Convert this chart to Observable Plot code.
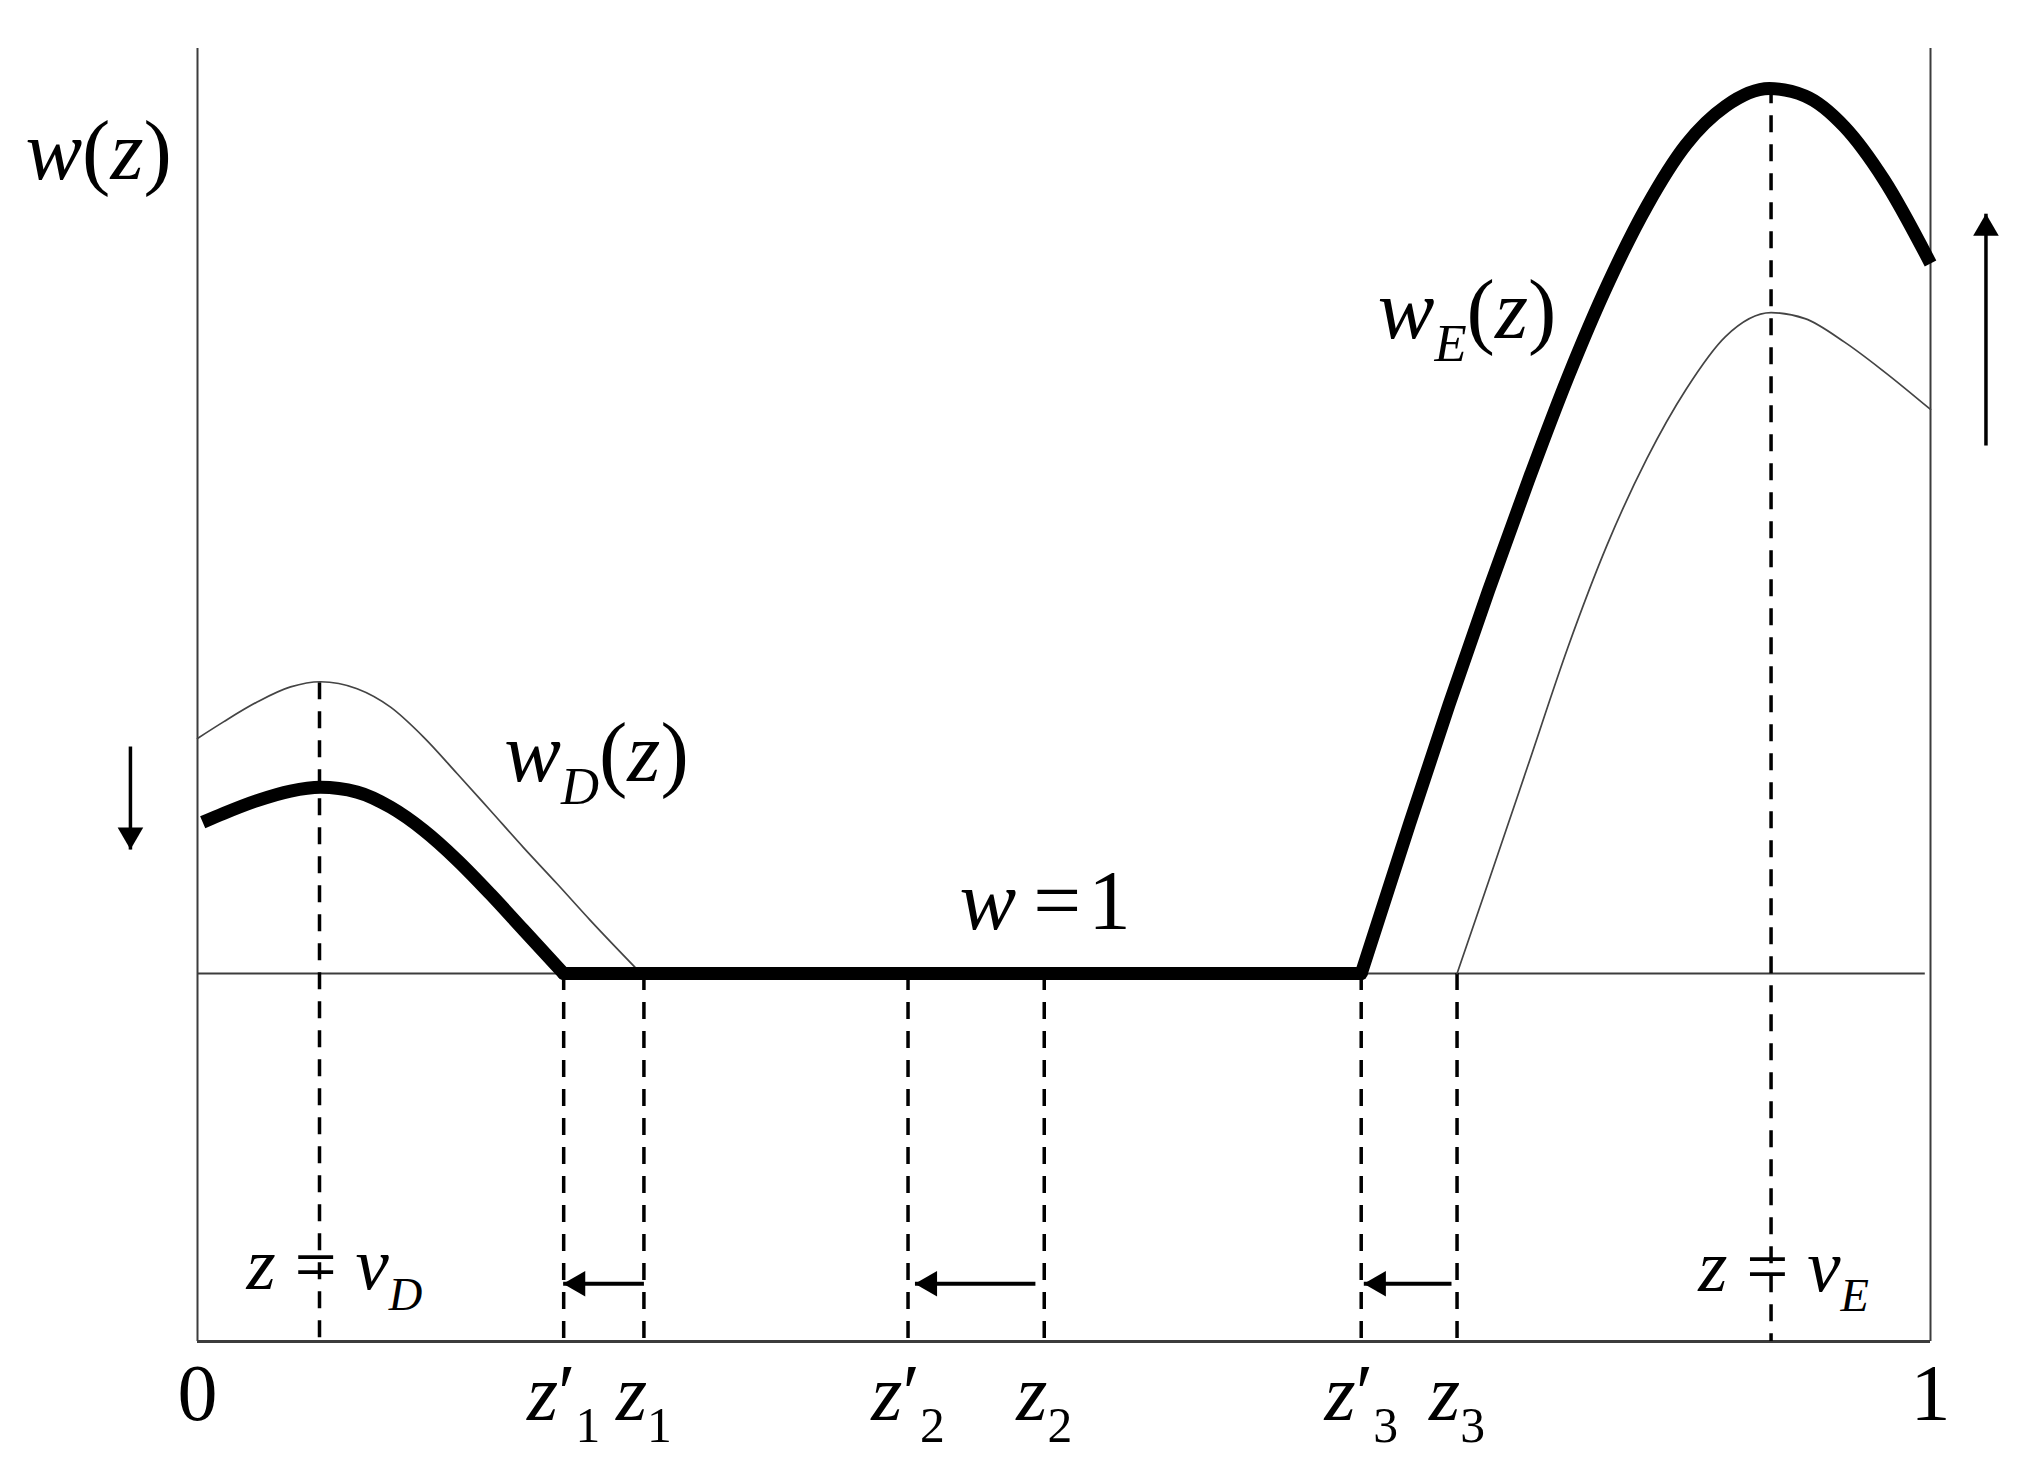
<!DOCTYPE html>
<html>
<head>
<meta charset="utf-8">
<script src="https://cdn.jsdelivr.net/npm/d3@7"></script>
<script src="https://cdn.jsdelivr.net/npm/@observablehq/plot@0.6"></script>
<style>
  html, body { margin: 0; padding: 0; background: #fff; }
  svg { display: block; }
  svg text { white-space: pre; }
</style>
</head>
<body>
<div id="chart"></div>
<script>
// ---- curves ----
const thinDx = [0, 0.015, 0.0344, 0.0537, 0.071, 0.0921, 0.1114, 0.1306, 0.1499, 0.169, 0.188, 0.2075, 0.2268, 0.256];
const thinDy = [1.639, 1.684, 1.738, 1.779, 1.793, 1.774, 1.724, 1.642, 1.543, 1.443, 1.343, 1.244, 1.144, 1.0];

const thickDx = [0.003, 0.015, 0.0344, 0.0537, 0.071, 0.0921, 0.1114, 0.1306, 0.1499, 0.169, 0.188, 0.2113];
const thickDy = [1.411, 1.435, 1.470, 1.496, 1.506, 1.493, 1.452, 1.389, 1.308, 1.216, 1.119, 1.0];

const flatX = [0.2113, 0.6715];
const flatY = [1, 1];

const thickEx = [0.6715, 0.6994, 0.7222, 0.745, 0.7679, 0.7908, 0.8134, 0.8364, 0.859, 0.8817, 0.907, 0.9276, 0.9504, 0.9732, 1.0];
const thickEy = [1.0, 1.407, 1.731, 2.041, 2.339, 2.621, 2.870, 3.086, 3.253, 3.357, 3.405, 3.385, 3.301, 3.157, 2.930];

const thinEx = [0.7268, 0.745, 0.7679, 0.7908, 0.8134, 0.8364, 0.859, 0.8817, 0.908, 0.9276, 0.9504, 0.9732, 1.0];
const thinEy = [1.0, 1.250, 1.568, 1.887, 2.165, 2.400, 2.588, 2.731, 2.796, 2.780, 2.716, 2.636, 2.533];

// ---- dashed verticals ----
const dashX   = [0.0704, 0.2113, 0.2576, 0.410, 0.4886, 0.6715, 0.7268, 0.908];
const dashTop = [1.79, 1, 1, 1, 1, 1, 1, 3.41];

// ---- tick labels ----
const tickValues = [0, 0.2113, 0.2576, 0.410, 0.4886, 0.6715, 0.7268, 1];
const tickLabels = ["0", "z'_1", "z_1", "z'_2", "z_2", "z'_3", "z_3", "1"];

// ---- shift arrows (left) ----
const shiftFrom = [0.2576, 0.4835, 0.7236];
const shiftTo   = [0.211, 0.414, 0.673];
const shiftY    = [0.157, 0.157, 0.157];

// ---- vertical arrows ----
const downArrowX = [-0.0387], downArrowFrom = [1.617], downArrowTo = [1.337];
const upArrowX = [1.032], upArrowFrom = [2.435], upArrowTo = [3.065];

// ---- labels ----
const bigLabelText = ["w(z)", "w_D(z)", "w_E(z)", "w\u2009=\u200a1"];
const bigLabelX    = [-0.0993, 0.177, 0.681, 0.4397];
const bigLabelY    = [3.160, 1.524, 2.728, 1.122];
const eqLabelText  = ["z = v_D", "z = v_E"];
const eqLabelX     = [0.0283, 0.866];
const eqLabelY     = [0.142, 0.138];

// ---- build tables ----
const pts = (xs, ys) => xs.map((x, i) => ({x, y: ys[i]}));
const thinD = pts(thinDx, thinDy);
const thickD = pts(thickDx, thickDy);
const flat = pts(flatX, flatY);
const thickE = pts(thickEx, thickEy);
const thinE = pts(thinEx, thinEy);
const dashes = dashX.map((x, i) => ({x, top: dashTop[i]}));
const shifts = shiftFrom.map((x1, i) => ({x1, x2: shiftTo[i], y: shiftY[i]}));
const downs = downArrowX.map((x, i) => ({x, y1: downArrowFrom[i], y2: downArrowTo[i]}));
const ups = upArrowX.map((x, i) => ({x, y1: upArrowFrom[i], y2: upArrowTo[i]}));
const bigLabels = bigLabelText.map((t, i) => ({t, x: bigLabelX[i], y: bigLabelY[i]}));
const eqLabels = eqLabelText.map((t, i) => ({t, x: eqLabelX[i], y: eqLabelY[i]}));
const tickMap = new Map(tickValues.map((v, i) => [v, tickLabels[i]]));

const axisColor = "#3c3c3c";
const thinColor = "#444";
const thickW = 13;
const headR = 9.5, headOff = 14.7;

const chart = Plot.plot({
  width: 2033,
  height: 1476,
  marginLeft: 197,
  marginRight: 103,
  marginTop: 48,
  marginBottom: 135,
  x: {domain: [0, 1]},
  y: {domain: [0, 3.514], axis: null},
  style: {fontFamily: "'Liberation Serif', 'Times New Roman', serif", background: "#fff", color: "#000"},
  marks: [
    Plot.ruleX([0, 1], {stroke: axisColor, strokeWidth: 2}),
    Plot.ruleY([0], {stroke: axisColor, strokeWidth: 3}),
    Plot.ruleY([1], {x1: 0, x2: 0.997, stroke: axisColor, strokeWidth: 2}),
    Plot.ruleX(dashes, {x: "x", y1: "top", y2: 0, stroke: "#000", strokeWidth: 3.5, strokeDasharray: "17,12"}),
    Plot.line(thinD, {x: "x", y: "y", curve: "monotone-x", stroke: thinColor, strokeWidth: 1.7}),
    Plot.line(thinE, {x: "x", y: "y", curve: "monotone-x", stroke: thinColor, strokeWidth: 1.7}),
    Plot.line(thickD, {x: "x", y: "y", curve: "monotone-x", stroke: "#000", strokeWidth: thickW, strokeLinecap: "butt"}),
    Plot.line(thickE, {x: "x", y: "y", curve: "monotone-x", stroke: "#000", strokeWidth: thickW, strokeLinecap: "butt"}),
    Plot.line(flat, {x: "x", y: "y", stroke: "#000", strokeWidth: thickW, strokeLinecap: "round"}),
    // shift arrows
    Plot.link(shifts, {x1: "x1", x2: "x2", y1: "y", y2: "y", stroke: "#000", strokeWidth: 4}),
    Plot.dot(shifts, {x: "x2", y: "y", symbol: "triangle", r: headR, rotate: -90, dx: headOff, fill: "#000", stroke: "none"}),
    Plot.link(downs, {x1: "x", x2: "x", y1: "y1", y2: "y2", stroke: "#000", strokeWidth: 3.5}),
    Plot.dot(downs, {x: "x", y: "y2", symbol: "triangle", r: headR, rotate: 180, dy: -headOff, fill: "#000", stroke: "none"}),
    Plot.link(ups, {x1: "x", x2: "x", y1: "y1", y2: "y2", stroke: "#000", strokeWidth: 3.5}),
    Plot.dot(ups, {x: "x", y: "y2", symbol: "triangle", r: headR, rotate: 0, dy: headOff, fill: "#000", stroke: "none"}),
    // labels
    Plot.text(bigLabels, {x: "x", y: "y", text: "t", textAnchor: "start", lineAnchor: "bottom", fontSize: 85, fill: "#000"}),
    Plot.text(eqLabels, {x: "x", y: "y", text: "t", textAnchor: "start", lineAnchor: "bottom", fontSize: 75, fill: "#000"}),
    Plot.axisX({ticks: tickValues, tickFormat: d => tickMap.get(d), tickSize: 0, tickPadding: 22, fontSize: 80, label: null, fill: "#000"})
  ]
});

document.getElementById("chart").appendChild(chart);

// typeset simple math: letters italic, "_X" subscript, "'" prime
const SVGNS = "http://www.w3.org/2000/svg";
function mathify(el) {
  const src = el.textContent;
  if (!/[A-Za-z_']/.test(src)) return;
  const F = parseFloat(getComputedStyle(el).fontSize) || 78;
  const tokens = [];
  for (let i = 0; i < src.length; i++) {
    const c = src[i];
    if (c === "_") { tokens.push({kind: "sub", s: src[i + 1]}); i++; }
    else if (c === "'") tokens.push({kind: "prime", s: "\u2032"});
    else {
      const it = /[A-Za-z]/.test(c);
      const last = tokens[tokens.length - 1];
      if (last && last.kind === "n" && last.it === it) last.s += c;
      else tokens.push({kind: "n", s: c, it});
    }
  }
  el.textContent = "";
  let lowered = false;
  for (const tk of tokens) {
    const t = document.createElementNS(SVGNS, "tspan");
    t.textContent = tk.s;
    if (tk.kind === "sub") {
      t.setAttribute("font-size", (F * 0.62).toFixed(1));
      t.setAttribute("dy", (F * 0.27).toFixed(1));
      t.setAttribute("font-style", /[A-Za-z]/.test(tk.s) ? "italic" : "normal");
      lowered = true;
    } else {
      if (lowered) t.setAttribute("dy", (-F * 0.27).toFixed(1));
      t.setAttribute("font-style", tk.kind === "n" && tk.it ? "italic" : "normal");
      lowered = false;
    }
    el.appendChild(t);
  }
}
chart.querySelectorAll("text").forEach(mathify);
</script>
</body>
</html>
